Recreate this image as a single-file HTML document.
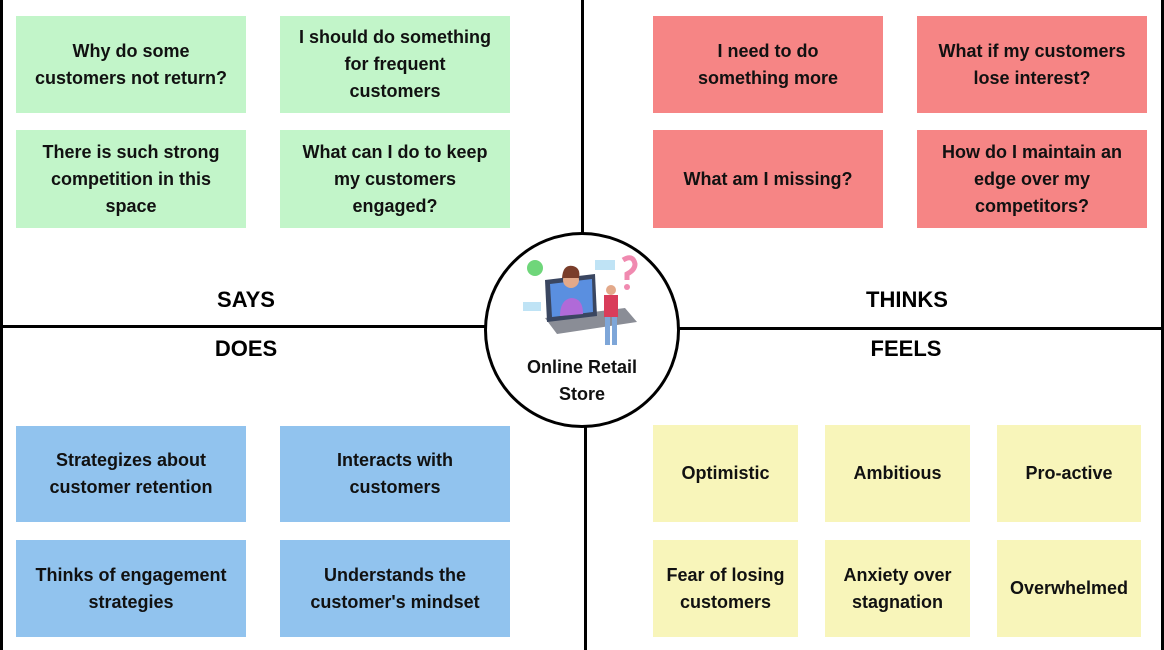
<!DOCTYPE html>
<html><head><style>
body{margin:0;width:1164px;height:650px;background:#fff;position:relative;overflow:hidden;font-family:"Liberation Sans",sans-serif}
.n{position:absolute;display:flex;align-items:center;justify-content:center;text-align:center;font-weight:bold;font-size:18px;line-height:27px;color:#111}
.g{background:#c2f5c9}.r{background:#f68585}.b{background:#91c3ee}.y{background:#f8f5ba}
.l{position:absolute;background:#000}
.h{position:absolute;font-weight:bold;font-size:22px;color:#000;transform:translateX(-50%)}
</style></head><body>
<div class="l" style="left:0;top:0;width:3px;height:650px"></div>
<div class="l" style="left:1161px;top:0;width:3px;height:650px"></div>
<div class="l" style="left:581px;top:0;width:3px;height:330px"></div>
<div class="l" style="left:584px;top:330px;width:3px;height:320px"></div>
<div class="l" style="left:0;top:325px;width:582px;height:3px"></div>
<div class="l" style="left:582px;top:327px;width:582px;height:3px"></div>

<div class="n g" style="left:16px;top:16px;width:230px;height:97px">Why do some<br>customers not return?</div>
<div class="n g" style="left:280px;top:16px;width:230px;height:97px">I should do something<br>for frequent<br>customers</div>
<div class="n g" style="left:16px;top:130px;width:230px;height:98px">There is such strong<br>competition in this<br>space</div>
<div class="n g" style="left:280px;top:130px;width:230px;height:98px">What can I do to keep<br>my customers<br>engaged?</div>

<div class="n r" style="left:653px;top:16px;width:230px;height:97px">I need to do<br>something more</div>
<div class="n r" style="left:917px;top:16px;width:230px;height:97px">What if my customers<br>lose interest?</div>
<div class="n r" style="left:653px;top:130px;width:230px;height:98px">What am I missing?</div>
<div class="n r" style="left:917px;top:130px;width:230px;height:98px">How do I maintain an<br>edge over my<br>competitors?</div>

<div class="n b" style="left:16px;top:426px;width:230px;height:96px">Strategizes about<br>customer retention</div>
<div class="n b" style="left:280px;top:426px;width:230px;height:96px">Interacts with<br>customers</div>
<div class="n b" style="left:16px;top:540px;width:230px;height:97px">Thinks of engagement<br>strategies</div>
<div class="n b" style="left:280px;top:540px;width:230px;height:97px">Understands the<br>customer's mindset</div>

<div class="n y" style="left:653px;top:425px;width:145px;height:97px">Optimistic</div>
<div class="n y" style="left:825px;top:425px;width:145px;height:97px">Ambitious</div>
<div class="n y" style="left:997px;top:425px;width:144px;height:97px">Pro-active</div>
<div class="n y" style="left:653px;top:540px;width:145px;height:97px">Fear of losing<br>customers</div>
<div class="n y" style="left:825px;top:540px;width:145px;height:97px">Anxiety over<br>stagnation</div>
<div class="n y" style="left:997px;top:540px;width:144px;height:97px">Overwhelmed</div>

<div class="h" style="left:246px;top:287px">SAYS</div>
<div class="h" style="left:907px;top:287px">THINKS</div>
<div class="h" style="left:246px;top:336px">DOES</div>
<div class="h" style="left:906px;top:336px">FEELS</div>

<div style="position:absolute;left:484px;top:232px;width:190px;height:190px;border:3px solid #000;border-radius:50%;background:#fff"></div>
<svg style="position:absolute;left:515px;top:250px" width="130" height="105" viewBox="0 0 130 105">
<circle cx="20" cy="18" r="8" fill="#6fd67a"/>
<path d="M30 68 L110 58 L122 72 L42 84 Z" fill="#8a8d96"/>
<path d="M30 30 L80 24 L82 66 L32 72 Z" fill="#3a4660"/>
<path d="M35 34 L77 29 L78 62 L37 67 Z" fill="#5a8fe0"/>
<path d="M45 66 Q45 50 56 48 Q68 48 68 64 Z" fill="#b06ad8"/>
<circle cx="56" cy="30" r="8" fill="#e3a98a"/>
<path d="M47 28 Q48 14 58 16 Q66 18 64 28 Z" fill="#7a3d2a"/>
<rect x="80" y="10" width="20" height="10" fill="#bfe3f5"/>
<rect x="8" y="52" width="18" height="9" fill="#bfe3f5"/>
<path d="M108 10 Q118 4 120 14 Q120 20 112 24 L112 30" stroke="#f08ab0" stroke-width="5" fill="none"/>
<circle cx="112" cy="37" r="3" fill="#f08ab0"/>
<circle cx="96" cy="40" r="5" fill="#e3a98a"/>
<rect x="89" y="45" width="14" height="22" fill="#d93c5a"/>
<rect x="90" y="67" width="5" height="28" fill="#7ea6d8"/>
<rect x="97" y="67" width="5" height="28" fill="#7ea6d8"/>
</svg>
<div class="n" style="left:487px;top:354px;width:190px;height:54px;font-size:18px;line-height:27px">Online Retail<br>Store</div>
</body></html>
